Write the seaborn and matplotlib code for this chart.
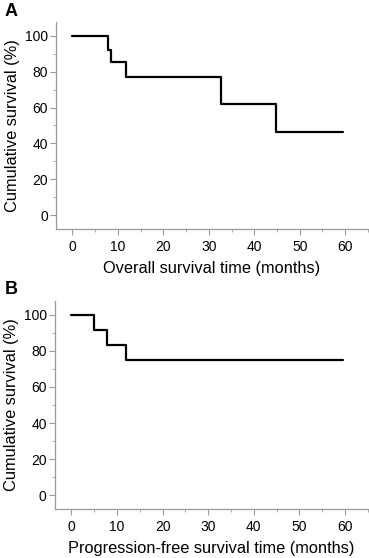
import numpy as np
import pandas as pd
import matplotlib
matplotlib.use('Agg')
import matplotlib.pyplot as plt
from matplotlib.ticker import MultipleLocator
import seaborn as sns

# Kaplan-Meier steps (steps-post)
os_months = [0, 7.8, 8.5, 11.85, 32.6, 44.7, 59.6]
os_surv = [100, 92.0, 85.2, 76.8, 61.8, 46.6, 46.6]
pfs_months = [0, 5.0, 7.9, 12.0, 59.6]
pfs_surv = [100, 91.5, 83.3, 74.8, 74.8]

panels = ['A', 'B']
xlabels = ['Overall survival time (months)', 'Progression-free survival time (months)']
ylabel = 'Cumulative survival (%)'

sns.set_style('white')
plt.rcParams['font.family'] = ['Liberation Sans', 'DejaVu Sans']
plt.rcParams['text.color'] = 'black'
plt.rcParams['axes.labelcolor'] = 'black'
plt.rcParams['xtick.labelcolor'] = 'black'
plt.rcParams['ytick.labelcolor'] = 'black'

fig = plt.figure(figsize=(3.69, 5.58), dpi=100)
ax_a = fig.add_axes([0.152, 0.5896, 0.845, 0.371])
ax_b = fig.add_axes([0.149, 0.0878, 0.848, 0.3728])

spine_col = '#9a9a9a'
data = [(os_months, os_surv), (pfs_months, pfs_surv)]
for ax, (t, s), lab, xl in zip([ax_a, ax_b], data, panels, xlabels):
    df = pd.DataFrame({'time': t, 'surv': s})
    sns.lineplot(data=df, x='time', y='surv', ax=ax, drawstyle='steps-post',
                 color='black', linewidth=1.6, estimator=None)
    ax.set_xlim(-3.6, 65)
    ax.set_ylim(-7.6, 107.6)
    ax.xaxis.set_major_locator(MultipleLocator(10))
    ax.xaxis.set_minor_locator(MultipleLocator(5))
    ax.yaxis.set_major_locator(MultipleLocator(20))
    ax.yaxis.set_minor_locator(MultipleLocator(10))
    ax.tick_params(which='major', direction='out', length=4, width=0.8,
                   color=spine_col, labelsize=10, left=True, bottom=True)
    ax.tick_params(axis='y', which='major', pad=2)
    ax.tick_params(axis='x', which='major', pad=4)
    ax.tick_params(which='minor', direction='out', length=2.5, width=0.6,
                   color=spine_col, left=True, bottom=True)
    for side in ['top', 'right']:
        ax.spines[side].set_visible(False)
    for side in ['left', 'bottom']:
        ax.spines[side].set_color(spine_col)
        ax.spines[side].set_linewidth(0.9)
    ax.set_xlabel(xl, fontsize=11.8, labelpad=5)
    ax.set_ylabel(ylabel, fontsize=11.8, labelpad=3)

fig.text(0.012, 0.994, 'A', fontsize=13, fontweight='bold', va='top', ha='left')
fig.text(0.012, 0.497, 'B', fontsize=13, fontweight='bold', va='top', ha='left')

fig.savefig('out.png', dpi=100)
